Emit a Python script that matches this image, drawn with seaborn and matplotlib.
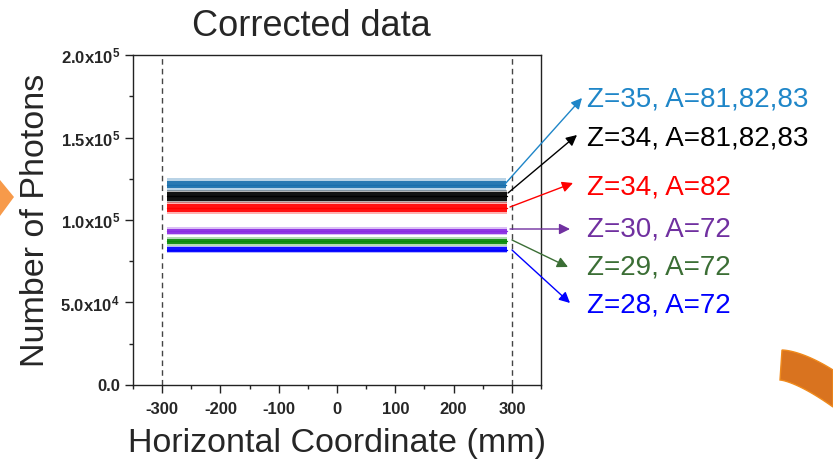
import matplotlib
matplotlib.use("Agg")
import matplotlib.pyplot as plt
import seaborn as sns
import numpy as np
import pandas as pd
from matplotlib.ticker import FixedLocator, MultipleLocator, FuncFormatter
from matplotlib.patches import Polygon

# ---- data ----
labels = ["Z=35, A=81,82,83", "Z=34, A=81,82,83", "Z=34, A=82",
          "Z=30, A=72", "Z=29, A=72", "Z=28, A=72"]
levels = [121500, 114300, 107300, 93300, 87000, 82000]   # band centre
half_width = [2300, 2600, 2200, 1500, 1500, 1400]         # dense core half-width
spread = [3800, 4000, 3600, 2600, 2500, 2300]             # outer scatter half-width
x_start = [-292, -292, -292, -292, -292, -292]
x_end = [290, 292, 292, 292, 292, 292]
band_colors = ["#1a6fad", "#000000", "#ff0000", "#8a2be2", "#0a8a0a", "#0000ff"]
label_colors = ["#1f86c8", "#000000", "#ff0000", "#7030a0", "#3b6e35", "#0000ff"]
x_ticks = [-300, -200, -100, 0, 100, 200, 300]
y_ticks = [0, 50000, 100000, 150000, 200000]

sns.set_style("ticks")
plt.rcParams['font.family'] = ['Liberation Sans', 'DejaVu Sans']
plt.rcParams['mathtext.fontset'] = 'custom'
plt.rcParams['mathtext.rm'] = 'Liberation Sans:bold'
plt.rcParams['mathtext.default'] = 'rm'
plt.rcParams['axes.unicode_minus'] = False

fig = plt.figure(figsize=(8.33, 4.68), dpi=100)
ax = fig.add_axes([0.1597, 0.1774, 0.4898, 0.705])

rows = []
for lab, lv, hw, sp, xs, xe in zip(labels, levels, half_width, spread, x_start, x_end):
    for x in (xs, xe):
        rows.append({"label": lab, "x": x, "y": lv, "lo": lv - hw, "hi": lv + hw,
                     "lo2": lv - sp, "hi2": lv + sp})
df = pd.DataFrame(rows)

for lab, col in zip(labels, band_colors):
    d = df[df.label == lab]
    ax.fill_between(d.x, d.lo2, d.hi2, color=col, linewidth=0, alpha=0.3)
    ax.fill_between(d.x, d.lo, d.hi, color=col, linewidth=0, alpha=0.9)
    sns.lineplot(data=d, x="x", y="y", color=col, linewidth=1.0, ax=ax)

for xv in (-300, 300):
    ax.axvline(xv, color="#444444", linestyle=(0, (4, 3)), linewidth=1.0)

ax.set_xlim(-350, 350)
ax.set_ylim(0, 200000)
ax.xaxis.set_major_locator(FixedLocator(x_ticks))
ax.xaxis.set_minor_locator(MultipleLocator(50))
ax.yaxis.set_major_locator(FixedLocator(y_ticks))
ax.yaxis.set_minor_locator(MultipleLocator(25000))

def yfmt(v, pos):
    if v == 0:
        return "0.0"
    e = int(np.floor(np.log10(v)))
    m = v / 10 ** e
    return f"{m:.1f}x10$^{{{e}}}$"

ax.yaxis.set_major_formatter(FuncFormatter(yfmt))
ax.tick_params(axis="both", which="major", direction="out", length=6, width=1,
               labelsize=12, color="#222222")
ax.tick_params(axis="x", which="major", pad=6)
ax.tick_params(axis="both", which="minor", direction="out", length=3, width=1,
               color="#222222")
for t in ax.get_xticklabels() + ax.get_yticklabels():
    t.set_fontweight("bold")
for s in ax.spines.values():
    s.set_visible(True)
    s.set_color("#222222")
    s.set_linewidth(1.0)

ax.set_xlabel("Horizontal Coordinate (mm)", fontsize=24.5, labelpad=8)
ax.set_ylabel("Number of Photons", fontsize=24.5, labelpad=7)
ax.set_title("Corrected data", fontsize=26, pad=14, x=0.436)

# labels with arrows
label_pos_px = [(587, 100), (587, 138), (587, 187), (587, 229), (587, 268), (587, 306)]
arrow_start_px = [(505, 184), (508, 193), (510, 207), (510, 229), (512, 240), (512, 250)]
arrow_end_px = [(582, 98), (577, 135), (573, 183), (570, 229), (568, 267), (570, 303)]
W, H = 833, 468
for lab, lc, (tx, ty), (sx, sy), (ex, ey) in zip(labels, label_colors, label_pos_px,
                                                 arrow_start_px, arrow_end_px):
    fig.text(tx / W, 1 - ty / H, lab, color=lc, fontsize=20, va="center", ha="left")
    ax.annotate("", xy=(ex / W, 1 - ey / H), xycoords="figure fraction",
                xytext=(sx / W, 1 - sy / H), textcoords="figure fraction",
                arrowprops=dict(arrowstyle="-|>", color=lc, lw=1.0,
                                mutation_scale=16, shrinkA=0, shrinkB=0),
                annotation_clip=False)

# decorative orange shapes
tri = Polygon([(0, 1 - 180 / H), (14 / W, 1 - 197 / H), (0, 1 - 216 / H)],
              closed=True, transform=fig.transFigure, facecolor="#f79a4a",
              edgecolor="none")
fig.patches.append(tri)
t = np.linspace(0, 1, 30)
top_x = 782 + 51 * t
top_y = 350 + 20 * t ** 1.6
bot_x = 780 + 53 * t
bot_y = 380 + 27 * t ** 1.4
pts = [(x / W, 1 - y / H) for x, y in zip(top_x, top_y)] + \
      [(x / W, 1 - y / H) for x, y in zip(bot_x[::-1], bot_y[::-1])]
arc = Polygon(pts, closed=True, transform=fig.transFigure,
              facecolor="#d9731f", edgecolor="#f08a1c", linewidth=1)
fig.patches.append(arc)

fig.savefig("out.png", dpi=100)
